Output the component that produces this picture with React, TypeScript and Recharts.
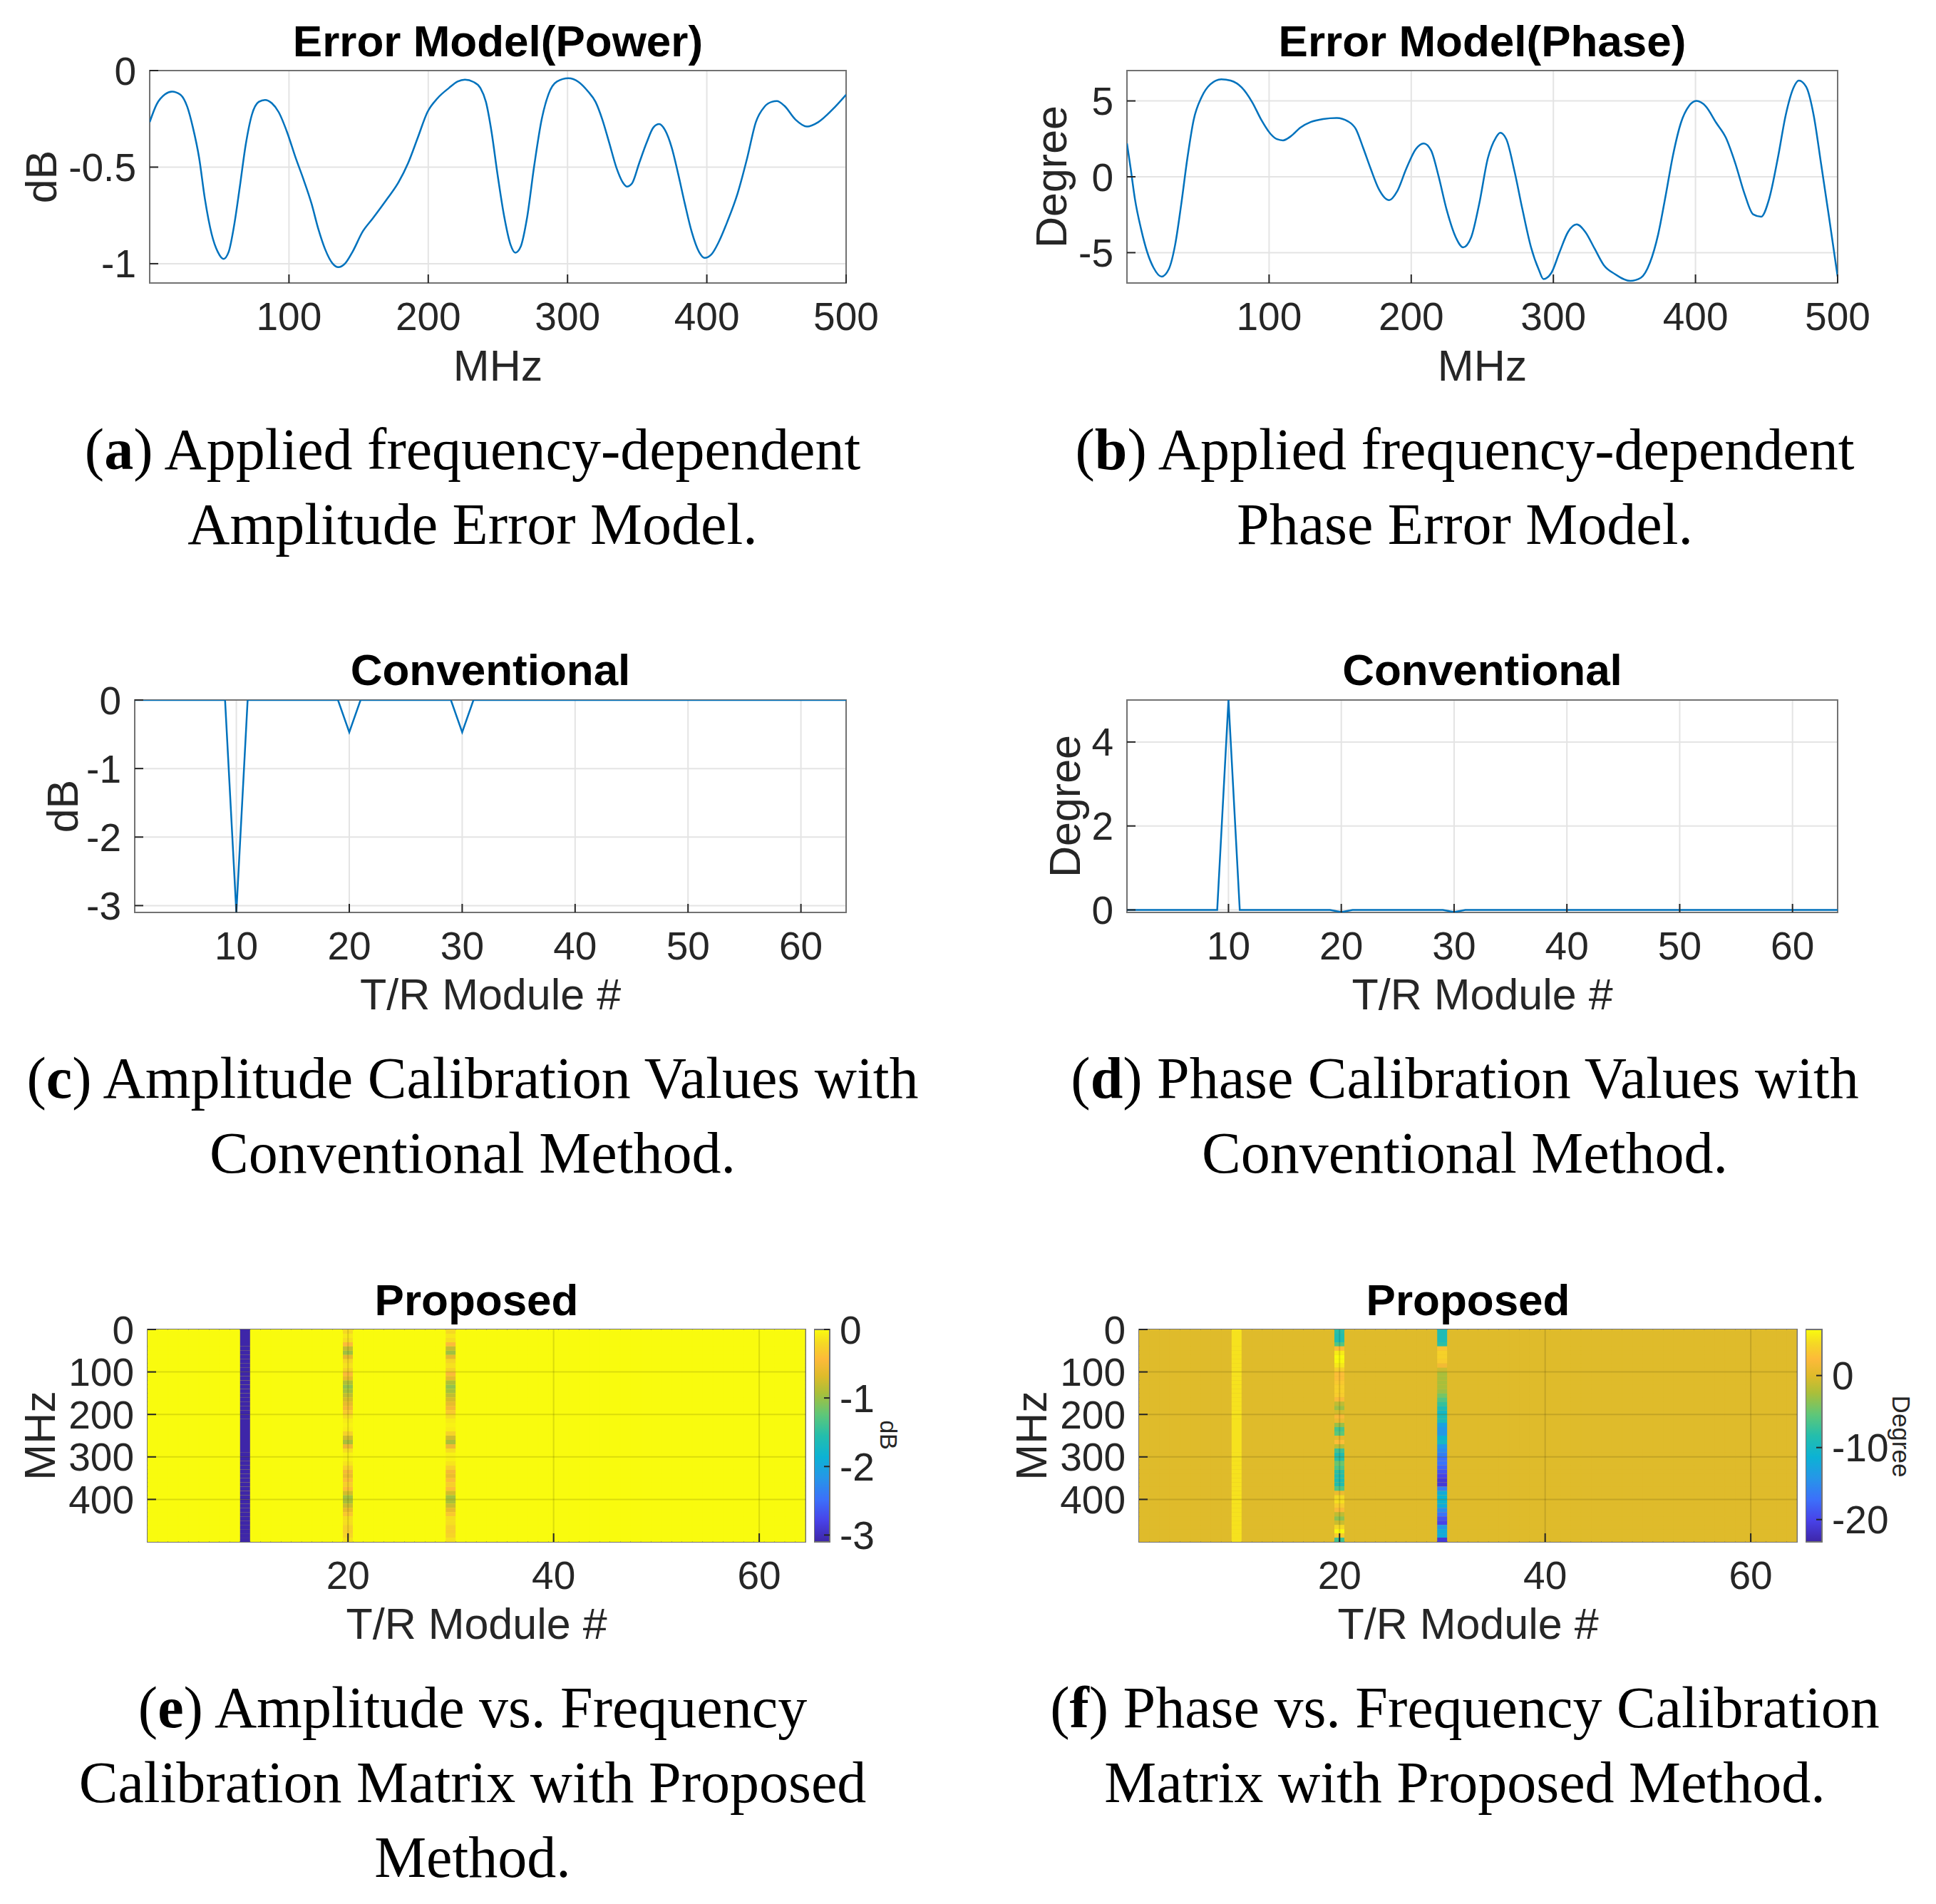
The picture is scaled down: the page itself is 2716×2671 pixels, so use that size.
import React from "react";
import {
  LineChart,
  Line,
  BarChart,
  Bar,
  Cell,
  ComposedChart,
  XAxis,
  YAxis,
  CartesianGrid,
  ReferenceArea,
  ReferenceLine,
} from "recharts";

// (a) applied amplitude error model, dB vs MHz
const ampFreq = [
  0, 5, 11, 16, 22, 27, 31, 35.5, 39.6, 44.5, 48.9, 53, 56.7, 60.8, 64.8, 68.9, 73.4, 78.3, 82.8, 87.7,
  92.6, 98.7, 104.8, 110.1, 116.2, 121.1, 126, 131.3, 135.4, 140.3, 145.6, 152.9, 159.9, 170, 178.2, 185.6,
  192.5, 199.4, 206.8, 214.9, 221, 226.3, 232.5, 237.4, 241.4, 245.5, 249.6, 254.5, 259, 262.6, 266.3, 270.8,
  276.1, 281.4, 286.3, 292.4, 300.6, 307.9, 314.8, 320.1, 325, 329.9, 335.2, 340.1, 342.6, 346.3, 351.5,
  356.8, 361.7, 365.8, 369.9, 374.8, 379.3, 384.2, 389.1, 394.4, 398.4, 403.3, 408.6, 414.8, 422.1, 429,
  435.2, 441.3, 446.6, 450.3, 455.6, 463.7, 471.9, 480, 490.2, 500,
];
const ampErr = [
  -0.267, -0.175, -0.123, -0.109, -0.125, -0.188, -0.294, -0.452, -0.663, -0.847, -0.939, -0.975, -0.939,
  -0.794, -0.597, -0.386, -0.228, -0.162, -0.152, -0.169, -0.215, -0.32, -0.452, -0.557, -0.689, -0.821,
  -0.926, -0.999, -1.018, -0.999, -0.939, -0.834, -0.768, -0.669, -0.584, -0.478, -0.347, -0.215, -0.142,
  -0.09, -0.057, -0.047, -0.059, -0.09, -0.162, -0.32, -0.531, -0.755, -0.9, -0.943, -0.913, -0.768, -0.491,
  -0.254, -0.123, -0.057, -0.04, -0.059, -0.109, -0.162, -0.254, -0.373, -0.505, -0.584, -0.601, -0.584,
  -0.478, -0.373, -0.294, -0.277, -0.307, -0.399, -0.531, -0.689, -0.834, -0.939, -0.97, -0.952, -0.887,
  -0.781, -0.636, -0.452, -0.267, -0.188, -0.162, -0.158, -0.182, -0.254, -0.29, -0.267, -0.202, -0.125,
];

// (b) applied phase error model, degree vs MHz
const phaseFreq = [
  0, 2.6, 5.6, 10, 14.3, 18.7, 24.3, 29.5, 33.9, 38.2, 42.5, 46.9, 52.5, 58.6, 66.4, 72.9, 80.7, 88.1, 94.6,
  101.1, 105.5, 109.8, 115, 122, 129.3, 138, 147.6, 155.4, 161, 166.2, 171.4, 177.1, 184.5, 190.1, 196.6,
  203.1, 208.8, 214, 219.2, 224.8, 231.3, 236.5, 242.2, 247.8, 253.9, 259.5, 262.6, 266.9, 272.6, 278.2,
  284.3, 289.9, 293, 298.6, 304.3, 310.3, 316.4, 322.5, 329, 335.5, 343.3, 354.2, 361.5, 368, 373.7, 378.9,
  384.1, 389.8, 395.4, 400.6, 407.1, 414.5, 421.4, 428, 434.5, 440.5, 446.2, 451.8, 457.9, 463.5, 469.2,
  472.7, 477.9, 483.1, 488.3, 493.9, 500,
];
const phaseErr = [
  2.2, 0.55, -1.46, -3.47, -4.98, -5.99, -6.58, -6.07, -4.48, -1.8, 1.22, 3.74, 5.25, 6.09, 6.43, 6.34, 5.89,
  4.92, 3.74, 2.82, 2.48, 2.4, 2.65, 3.24, 3.61, 3.81, 3.88, 3.66, 3.15, 1.9, 0.55, -0.79, -1.54, -0.96, 0.55,
  1.81, 2.2, 1.73, 0.05, -2.13, -3.98, -4.65, -3.98, -1.8, 1.22, 2.57, 2.9, 2.48, 0.39, -2.13, -4.65, -6.16,
  -6.74, -6.33, -4.98, -3.64, -3.14, -3.64, -4.73, -5.82, -6.41, -6.86, -6.66, -5.65, -3.81, -1.29, 1.39, 3.57,
  4.66, 5.0, 4.66, 3.57, 2.57, 0.89, -1.12, -2.47, -2.63, -1.46, 1.22, 4.08, 5.92, 6.34, 5.92, 4.08, 0.89,
  -2.63, -6.58,
];

// (c)/(d) conventional calibration values per T/R module
const modules = [
  1, 2, 3, 4, 5, 6, 7, 8, 9, 10, 11, 12, 13, 14, 15, 16,
  17, 18, 19, 20, 21, 22, 23, 24, 25, 26, 27, 28, 29, 30, 31, 32,
  33, 34, 35, 36, 37, 38, 39, 40, 41, 42, 43, 44, 45, 46, 47, 48,
  49, 50, 51, 52, 53, 54, 55, 56, 57, 58, 59, 60, 61, 62, 63, 64,
];
const convAmp = [
  0, 0, 0, 0, 0, 0, 0, 0, 0, -3.1, 0, 0, 0, 0, 0, 0,
  0, 0, 0, -0.47, 0, 0, 0, 0, 0, 0, 0, 0, 0, -0.47, 0, 0,
  0, 0, 0, 0, 0, 0, 0, 0, 0, 0, 0, 0, 0, 0, 0, 0,
  0, 0, 0, 0, 0, 0, 0, 0, 0, 0, 0, 0, 0, 0, 0, 0,
];
const convPhase = [
  0, 0, 0, 0, 0, 0, 0, 0, 0, 5, 0, 0, 0, 0, 0, 0,
  0, 0, 0, -0.05, 0, 0, 0, 0, 0, 0, 0, 0, 0, -0.05, 0, 0,
  0, 0, 0, 0, 0, 0, 0, 0, 0, 0, 0, 0, 0, 0, 0, 0,
  0, 0, 0, 0, 0, 0, 0, 0, 0, 0, 0, 0, 0, 0, 0, 0,
];

// (e)/(f) proposed calibration matrix, 10 MHz rows
const bandStart = [
  0, 10, 20, 30, 40, 50, 60, 70, 80, 90, 100, 110, 120, 130, 140, 150, 160, 170, 180, 190,
  200, 210, 220, 230, 240, 250, 260, 270, 280, 290, 300, 310, 320, 330, 340, 350, 360, 370, 380, 390,
  400, 410, 420, 430, 440, 450, 460, 470, 480, 490,
];
const BAND_MHZ = 10;
const ampModule10 = -3.1;
// modules 20 and 30 show the same stripe pattern
const ampStripe = [
  -0.2, -0.11, -0.17, -0.43, -0.8, -0.97, -0.62, -0.22, -0.15, -0.23,
  -0.45, -0.62, -0.9, -1.02, -0.95, -0.82, -0.72, -0.61, -0.5, -0.31,
  -0.17, -0.09, -0.05, -0.08, -0.25, -0.75, -0.93, -0.55, -0.17, -0.05,
  -0.06, -0.13, -0.25, -0.5, -0.58, -0.4, -0.28, -0.4, -0.73, -0.95,
  -0.93, -0.77, -0.6, -0.33, -0.17, -0.17, -0.25, -0.28, -0.24, -0.15,
];
const phaseModule10 = 5;
const phaseStripe20 = [
  -8, -8.5, -8.5, -6, 2.5, 5.5, 6.4, 6.3, 5.3, 3.8,
  2.6, 2.6, 3.3, 3.8, 3.9, 3.6, 2, -1.5, -3, -0.5,
  1.9, 1, -3, -6.5, -5.5, 0.5, 2.6, -1.5, -7, -8.5,
  -8, -5, -6, -8, -8.5, -8.8, -8.5, -6, 1, 4.5,
  4.8, 3.6, 2, -1.5, -3.5, -1, 4.5, 6.2, 3.5, -7,
];
const phaseStripe30 = [
  -9, -9, -9, -8, 3, 4, 4, 3.5, 1.5, -1,
  -2.5, -2.5, -2.5, -2.5, -3, -4.5, -6, -7.5, -9, -10,
  -9, -9.5, -13, -14, -14, -11, -10, -14, -15, -16,
  -17, -17, -18, -19, -20, -21, -21, -16, -12, -11,
  -11, -12, -15, -17, -19, -20, -14, -12, -12, -21,
];

const ampRange: [number, number] = [-3.1, 0];
const phaseRange: [number, number] = [-23.1, 6.4];

// parula-like colormap stops [t, r, g, b]
const PARULA = [
  [0.0, 62, 38, 168],
  [0.1, 72, 66, 232],
  [0.2, 60, 112, 250],
  [0.3, 38, 150, 232],
  [0.4, 12, 178, 212],
  [0.5, 36, 190, 172],
  [0.6, 95, 199, 120],
  [0.7, 170, 191, 58],
  [0.78, 222, 187, 42],
  [0.86, 253, 186, 58],
  [0.93, 245, 214, 38],
  [1.0, 249, 251, 14],
];

function parula(v: number, range: [number, number]) {
  const t = Math.max(0, Math.min(1, (v - range[0]) / (range[1] - range[0])));
  for (let i = 1; i < PARULA.length; i++) {
    const [t1, r1, g1, b1] = PARULA[i];
    if (t <= t1) {
      const [t0, r0, g0, b0] = PARULA[i - 1];
      const f = (t - t0) / (t1 - t0);
      const mix = (a: number, b: number) => Math.round(a + (b - a) * f);
      return `rgb(${mix(r0, r1)},${mix(g0, g1)},${mix(b0, b1)})`;
    }
  }
  return "rgb(249,251,14)";
}

const SANS = '"Liberation Sans", Arial, Helvetica, sans-serif';
const SERIF = '"Liberation Serif", "Times New Roman", serif';
const LINE_BLUE = "#0072BD";
const INK = "#262626";
const GRID = "#e4e4e4";
const BOX = "#727272";
const TICK = { fill: INK, fontSize: 55, fontFamily: SANS };
const TICK_LINE = { stroke: INK, strokeWidth: 2 };

type Box = { x: number; y: number; w: number; h: number };

const AX_W = 170;
const TOP_PAD = 40;
const RIGHT_PAD = 70;
const X_H = 80;

const boxA: Box = { x: 210, y: 99, w: 977, h: 298 };
const boxB: Box = { x: 1581, y: 99, w: 997, h: 298 };
const boxC: Box = { x: 189, y: 982, w: 998, h: 298 };
const boxD: Box = { x: 1581, y: 982, w: 997, h: 298 };
const boxE: Box = { x: 207, y: 1865, w: 923, h: 298 };
const boxF: Box = { x: 1598, y: 1865, w: 923, h: 298 };
const barE: Box = { x: 1142, y: 1865, w: 22, h: 298 };
const barF: Box = { x: 2533, y: 1865, w: 23, h: 298 };

function LinePanel(props: {
  box: Box;
  data: { x: number; y: number }[];
  xDomain: [number, number];
  xTicks: number[];
  yDomain: [number, number];
  yTicks: number[];
  curve: "monotone" | "linear";
}) {
  const { box, data, xDomain, xTicks, yDomain, yTicks, curve } = props;
  return (
    <div style={{ position: "absolute", left: box.x - AX_W, top: box.y - TOP_PAD }}>
      <LineChart
        width={AX_W + box.w + RIGHT_PAD}
        height={TOP_PAD + box.h + X_H}
        data={data}
        margin={{ top: TOP_PAD, right: RIGHT_PAD, bottom: 0, left: 0 }}
      >
        <CartesianGrid stroke={GRID} strokeWidth={2} />
        <XAxis
          type="number"
          dataKey="x"
          domain={xDomain}
          ticks={xTicks}
          allowDataOverflow
          interval={0}
          height={X_H}
          axisLine={false}
          tickSize={-12}
          tickMargin={39}
          tickLine={TICK_LINE}
          tick={TICK}
        />
        <YAxis
          type="number"
          domain={yDomain}
          ticks={yTicks}
          allowDataOverflow
          interval={0}
          width={AX_W}
          axisLine={false}
          tickSize={-12}
          tickMargin={31}
          tickLine={TICK_LINE}
          tick={TICK}
        />
        <ReferenceArea
          x1={xDomain[0]}
          x2={xDomain[1]}
          y1={yDomain[0]}
          y2={yDomain[1]}
          fill="none"
          stroke={BOX}
          strokeWidth={2}
        />
        <Line
          type={curve}
          dataKey="y"
          stroke={LINE_BLUE}
          strokeWidth={2.5}
          dot={false}
          isAnimationActive={false}
        />
      </LineChart>
    </div>
  );
}

function HeatPanel(props: {
  box: Box;
  valueAt: (m: number, band: number) => number;
  range: [number, number];
}) {
  const { box, valueAt, range } = props;
  const rows = modules.map((m) => {
    const row: Record<string, number> = { module: m };
    bandStart.forEach((_, j) => {
      row[`b${j}`] = BAND_MHZ;
    });
    return row;
  });
  return (
    <div style={{ position: "absolute", left: box.x - AX_W, top: box.y - TOP_PAD }}>
      <BarChart
        width={AX_W + box.w + RIGHT_PAD}
        height={TOP_PAD + box.h + X_H}
        data={rows}
        margin={{ top: TOP_PAD, right: RIGHT_PAD, bottom: 0, left: 0 }}
        barCategoryGap={0}
        barGap={0}
      >
        <XAxis
          dataKey="module"
          type="category"
          allowDuplicatedCategory={false}
          ticks={[20, 40, 60]}
          interval={0}
          height={X_H}
          axisLine={false}
          tickSize={-12}
          tickMargin={39}
          tickLine={TICK_LINE}
          tick={TICK}
        />
        <YAxis
          type="number"
          domain={[0, 500]}
          reversed
          ticks={[0, 100, 200, 300, 400]}
          allowDataOverflow
          interval={0}
          width={AX_W}
          axisLine={false}
          tickSize={-12}
          tickMargin={31}
          tickLine={TICK_LINE}
          tick={TICK}
        />
        <ReferenceArea y1={0} y2={500} fill={parula(0, range)} fillOpacity={1} stroke="none" />
        {bandStart.map((_, j) => (
          <Bar key={j} dataKey={`b${j}`} stackId="cal" isAnimationActive={false}>
            {modules.map((m) => (
              <Cell key={m} fill={parula(valueAt(m, j), range)} />
            ))}
          </Bar>
        ))}
        {[20, 40, 60].map((v) => (
          <ReferenceLine key={`x${v}`} x={v} stroke="#000" strokeOpacity={0.12} strokeWidth={2} />
        ))}
        {[100, 200, 300, 400].map((v) => (
          <ReferenceLine key={`y${v}`} y={v} stroke="#000" strokeOpacity={0.12} strokeWidth={2} />
        ))}
        <ReferenceArea y1={0} y2={500} fill="none" stroke={BOX} strokeWidth={2} />
      </BarChart>
    </div>
  );
}

function ColorBar(props: { box: Box; range: [number, number]; ticks: number[]; id: string }) {
  const { box, range, ticks, id } = props;
  return (
    <div style={{ position: "absolute", left: box.x, top: box.y - TOP_PAD }}>
      <ComposedChart
        width={box.w + 170}
        height={box.h + TOP_PAD * 2}
        data={[{ x: 0 }, { x: 1 }]}
        margin={{ top: TOP_PAD, right: 0, bottom: TOP_PAD, left: 0 }}
      >
        <defs>
          <linearGradient id={id} x1="0" y1="1" x2="0" y2="0">
            {PARULA.map(([t, r, g, b]) => (
              <stop key={t} offset={t} stopColor={`rgb(${r},${g},${b})`} />
            ))}
          </linearGradient>
        </defs>
        <XAxis type="number" dataKey="x" domain={[0, 1]} hide />
        <YAxis
          orientation="right"
          type="number"
          domain={range}
          ticks={ticks}
          allowDataOverflow
          interval={0}
          width={170}
          axisLine={false}
          tickSize={-8}
          tickMargin={22}
          tickLine={TICK_LINE}
          tick={TICK}
        />
        <ReferenceArea
          y1={range[0]}
          y2={range[1]}
          fill={`url(#${id})`}
          fillOpacity={1}
          stroke={BOX}
          strokeWidth={2}
        />
      </ComposedChart>
    </div>
  );
}

function Label(props: { cx: number; baseline: number; size: number; bold?: boolean; children: React.ReactNode }) {
  const { cx, baseline, size, bold, children } = props;
  return (
    <div
      style={{
        position: "absolute",
        left: cx - 800,
        width: 1600,
        top: baseline - 0.8465 * size,
        textAlign: "center",
        fontFamily: SANS,
        fontSize: size,
        lineHeight: `${size}px`,
        fontWeight: bold ? 700 : 400,
        color: bold ? "#000" : INK,
        whiteSpace: "nowrap",
      }}
    >
      {children}
    </div>
  );
}

function VLabel(props: { cx: number; cy: number; size: number; rot: number; children: React.ReactNode }) {
  const { cx, cy, size, rot, children } = props;
  return (
    <div
      style={{
        position: "absolute",
        left: cx,
        top: cy,
        transform: `translate(-50%, -50%) rotate(${rot}deg)`,
        fontFamily: SANS,
        fontSize: size,
        lineHeight: `${size}px`,
        color: INK,
        whiteSpace: "nowrap",
      }}
    >
      {children}
    </div>
  );
}

function Caption(props: { cx: number; baseline: number; letter: string; lines: string[] }) {
  const { cx, baseline, letter, lines } = props;
  return (
    <div
      style={{
        position: "absolute",
        left: cx - 700,
        width: 1400,
        top: baseline - 80,
        textAlign: "center",
        fontFamily: SERIF,
        fontSize: 82,
        lineHeight: "105px",
        color: "#000",
        whiteSpace: "nowrap",
      }}
    >
      {lines.map((l, i) => (
        <div key={i}>
          {i === 0 && (
            <>
              (<b>{letter}</b>){" "}
            </>
          )}
          {l}
        </div>
      ))}
    </div>
  );
}

const mid = (b: Box) => b.x + b.w / 2;

export default function App() {
  const ampData = ampFreq.map((x, i) => ({ x, y: ampErr[i] }));
  const phaseData = phaseFreq.map((x, i) => ({ x, y: phaseErr[i] }));
  const convAmpData = modules.map((x, i) => ({ x, y: convAmp[i] }));
  const convPhaseData = modules.map((x, i) => ({ x, y: convPhase[i] }));
  const freqTicks = [100, 200, 300, 400, 500];
  const moduleTicks = [10, 20, 30, 40, 50, 60];

  const ampAt = (m: number, j: number) =>
    m === 10 ? ampModule10 : m === 20 || m === 30 ? ampStripe[j] : 0;
  const phaseAt = (m: number, j: number) =>
    m === 10 ? phaseModule10 : m === 20 ? phaseStripe20[j] : m === 30 ? phaseStripe30[j] : 0;

  return (
    <div
      style={{
        position: "absolute",
        left: 0,
        top: 0,
        width: 2716,
        height: 2671,
        background: "#fff",
        overflow: "hidden",
      }}
    >
      <LinePanel box={boxA} data={ampData} xDomain={[0, 500]} xTicks={freqTicks} yDomain={[-1.1, 0]} yTicks={[-1, -0.5, 0]} curve="monotone" />
      <LinePanel box={boxB} data={phaseData} xDomain={[0, 500]} xTicks={freqTicks} yDomain={[-7, 7]} yTicks={[-5, 0, 5]} curve="monotone" />
      <LinePanel box={boxC} data={convAmpData} xDomain={[1, 64]} xTicks={moduleTicks} yDomain={[-3.1, 0]} yTicks={[-3, -2, -1, 0]} curve="linear" />
      <LinePanel box={boxD} data={convPhaseData} xDomain={[1, 64]} xTicks={moduleTicks} yDomain={[-0.06, 5]} yTicks={[0, 2, 4]} curve="linear" />
      <HeatPanel box={boxE} valueAt={ampAt} range={ampRange} />
      <HeatPanel box={boxF} valueAt={phaseAt} range={phaseRange} />
      <ColorBar box={barE} range={ampRange} ticks={[-3, -2, -1, 0]} id="cbAmp" />
      <ColorBar box={barF} range={phaseRange} ticks={[-20, -10, 0]} id="cbPhase" />

      <Label cx={mid(boxA)} baseline={79} size={62} bold>Error Model(Power)</Label>
      <Label cx={mid(boxB)} baseline={79} size={62} bold>Error Model(Phase)</Label>
      <Label cx={mid(boxC)} baseline={961} size={62} bold>Conventional</Label>
      <Label cx={mid(boxD)} baseline={961} size={62} bold>Conventional</Label>
      <Label cx={mid(boxE)} baseline={1845} size={62} bold>Proposed</Label>
      <Label cx={mid(boxF)} baseline={1845} size={62} bold>Proposed</Label>

      <Label cx={mid(boxA)} baseline={535} size={61}>MHz</Label>
      <Label cx={mid(boxB)} baseline={535} size={61}>MHz</Label>
      <Label cx={mid(boxC)} baseline={1417} size={61}>T/R Module #</Label>
      <Label cx={mid(boxD)} baseline={1417} size={61}>T/R Module #</Label>
      <Label cx={mid(boxE)} baseline={2300} size={61}>T/R Module #</Label>
      <Label cx={mid(boxF)} baseline={2300} size={61}>T/R Module #</Label>

      <VLabel cx={58} cy={248} size={61} rot={-90}>dB</VLabel>
      <VLabel cx={1475} cy={248} size={61} rot={-90}>Degree</VLabel>
      <VLabel cx={88} cy={1131} size={61} rot={-90}>dB</VLabel>
      <VLabel cx={1494} cy={1131} size={61} rot={-90}>Degree</VLabel>
      <VLabel cx={56} cy={2014} size={61} rot={-90}>MHz</VLabel>
      <VLabel cx={1447} cy={2014} size={61} rot={-90}>MHz</VLabel>
      <VLabel cx={1247} cy={2013} size={34} rot={90}>dB</VLabel>
      <VLabel cx={2667} cy={2015} size={35} rot={90}>Degree</VLabel>

      <Caption cx={663} baseline={658} letter="a" lines={["Applied frequency-dependent", "Amplitude Error Model."]} />
      <Caption cx={2055} baseline={658} letter="b" lines={["Applied frequency-dependent", "Phase Error Model."]} />
      <Caption cx={663} baseline={1540} letter="c" lines={["Amplitude Calibration Values with", "Conventional Method."]} />
      <Caption cx={2055} baseline={1540} letter="d" lines={["Phase Calibration Values with", "Conventional Method."]} />
      <Caption cx={663} baseline={2423} letter="e" lines={["Amplitude vs. Frequency", "Calibration Matrix with Proposed", "Method."]} />
      <Caption cx={2055} baseline={2423} letter="f" lines={["Phase vs. Frequency Calibration", "Matrix with Proposed Method."]} />
    </div>
  );
}
